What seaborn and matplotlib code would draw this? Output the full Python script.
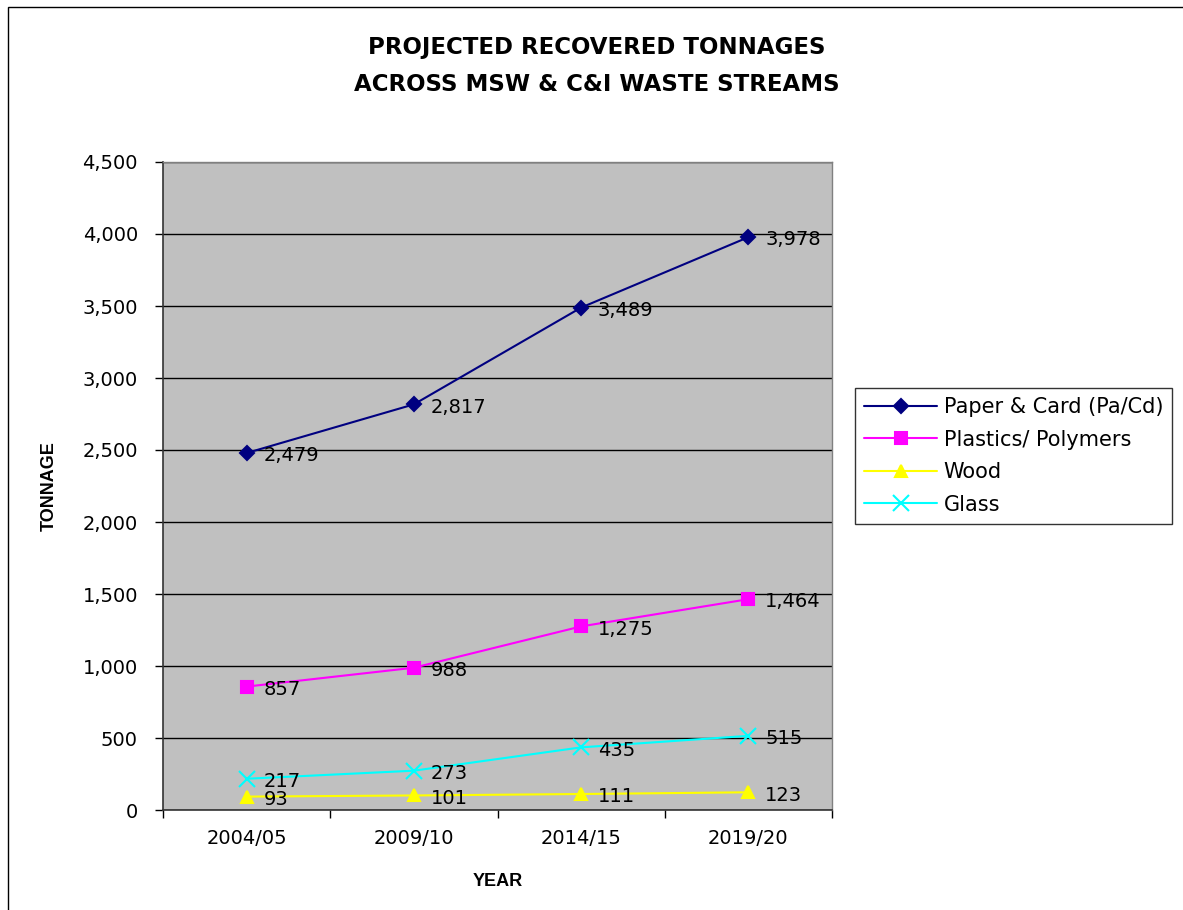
import matplotlib
matplotlib.use("Agg")
import matplotlib.pyplot as plt
import seaborn as sns
import pandas as pd
from matplotlib.patches import Rectangle
from matplotlib.lines import Line2D

years = ["2004/05", "2009/10", "2014/15", "2019/20"]
paper = [2479, 2817, 3489, 3978]
plastics = [857, 988, 1275, 1464]
wood = [93, 101, 111, 123]
glass = [217, 273, 435, 515]
series_names = ["Paper & Card (Pa/Cd)", "Plastics/ Polymers", "Wood", "Glass"]
colors = ["#000080", "#FF00FF", "#FFFF00", "#00FFFF"]
markers = ["D", "s", "^", "x"]
msizes = [7, 8, 8, 11]
y_ticks = [0, 500, 1000, 1500, 2000, 2500, 3000, 3500, 4000, 4500]

sns.set_theme(style="white")
plt.rcParams['font.family'] = ['Liberation Sans', 'DejaVu Sans']
plt.rcParams['text.color'] = 'black'
plt.rcParams['axes.labelcolor'] = 'black'
plt.rcParams['xtick.color'] = 'black'
plt.rcParams['ytick.color'] = 'black'

fig = plt.figure(figsize=(11.83, 9.10), dpi=100)
fig.patches.append(Rectangle((8/1183, -0.1), 1.2, 1.1 - 7/910, transform=fig.transFigure,
                             fill=False, edgecolor="black", linewidth=1.0))
ax = fig.add_axes([163/1183, 100/910, 669/1183, 648/910])
ax.set_facecolor("#C0C0C0")

xs = list(range(len(years)))
all_vals = [paper, plastics, wood, glass]
for name, vals, c, m, ms in zip(series_names, all_vals, colors, markers, msizes):
    d = pd.DataFrame({"x": xs, "Tonnage": vals})
    sns.lineplot(data=d, x="x", y="Tonnage", color=c, marker=m, markersize=ms,
                 markerfacecolor=c, markeredgecolor=c, markeredgewidth=1.5,
                 linewidth=1.5, ax=ax, legend=False)

for vals in all_vals:
    for i, v in enumerate(vals):
        ax.annotate(f"{v:,}", (i, v), xytext=(12, -2), textcoords="offset points",
                    va="center", ha="left", fontsize=14, family="DejaVu Sans",
                    color="black")

ax.set_xlim(-0.5, 3.5)
ax.set_ylim(0, 4500)
ax.set_yticks(y_ticks)
ax.set_yticklabels([f"{t:,}" for t in y_ticks], fontsize=14, family="DejaVu Sans")
ax.yaxis.grid(True, color="black", linewidth=1.0)
ax.set_axisbelow(True)
ax.set_xticks([-0.5, 0.5, 1.5, 2.5, 3.5])
ax.set_xticklabels([])
ax.set_xticks(xs, minor=True)
ax.set_xticklabels(years, minor=True, fontsize=14, family="DejaVu Sans")
ax.tick_params(axis="x", which="major", length=6, width=1, color="black", direction="out", bottom=True)
ax.tick_params(axis="x", which="minor", length=0, pad=14, bottom=True)
ax.tick_params(axis="y", length=6, width=1, color="black", direction="out", left=True, pad=12)
for s in ["left", "bottom"]:
    ax.spines[s].set_color("#333333")
    ax.spines[s].set_linewidth(1.2)
for s in ["right", "top"]:
    ax.spines[s].set_color("#808080")
    ax.spines[s].set_linewidth(1.0)

ax.set_xlabel("YEAR", fontsize=13, fontweight="bold", labelpad=18)
ax.set_ylabel("TONNAGE", fontsize=13, fontweight="bold", labelpad=18)

fig.text(597/1183, 1 - 66/910, "PROJECTED RECOVERED TONNAGES\nACROSS MSW & C&I WASTE STREAMS",
         ha="center", va="center", fontsize=16.5, fontweight="bold", linespacing=1.75,
         family="DejaVu Sans")

handles = [Line2D([], [], color=c, marker=m, markersize=ms,
                  markerfacecolor=c, markeredgecolor=c, markeredgewidth=1.5, linewidth=1.5)
           for c, m, ms in zip(colors, markers, msizes)]
leg = fig.legend(handles, series_names, loc="center left",
                 bbox_to_anchor=(855/1183, 1 - 456/910), frameon=True, fancybox=False,
                 fontsize=15, handlelength=3.5, labelspacing=0.6, borderpad=0.45,
                 handletextpad=0.3, borderaxespad=0)
leg.get_frame().set_edgecolor("black")
leg.get_frame().set_linewidth(1.0)
for t in leg.get_texts():
    t.set_family("DejaVu Sans")
    t.set_color("black")

fig.savefig("out.png", dpi=100, facecolor="white")
